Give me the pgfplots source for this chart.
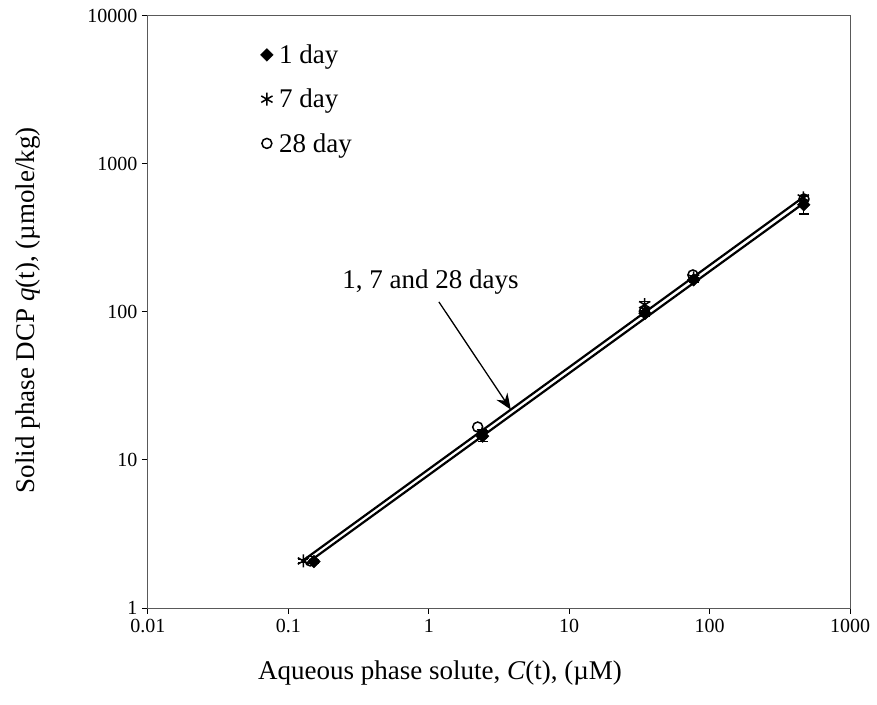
\documentclass[border=0pt]{standalone}
\usepackage{fontspec}
\setmainfont{Liberation Serif}
\usepackage{pgfplots}
\pgfplotsset{compat=1.18}
\usetikzlibrary{arrows.meta}
\begin{document}
\begin{tikzpicture}
\begin{axis}[
  name=ax,
  xmode=log, ymode=log,
  scale only axis,
  width=702pt, height=592pt,
  xmin=0.01, xmax=1000, ymin=1, ymax=10000,
  xtick={0.01,0.1,1,10,100,1000},
  xticklabels={0.01,0.1,1,10,100,1000},
  ytick={1,10,100,1000,10000},
  yticklabels={1,10,100,1000,10000},
  xminorticks=false, yminorticks=false,
  tick pos=left,
  tick align=outside,
  major tick length=6pt,
  tick style={black, line width=1pt},
  axis line style={black!65, line width=1pt},
  ticklabel style={font=\fontsize{20}{24}\selectfont},
  xticklabel style={yshift=-2pt},
  yticklabel style={xshift=-1pt},
  label style={font=\fontsize{27}{32}\selectfont},
  xlabel={Aqueous phase solute, \textit{C}(t), (µM)},
  ylabel={Solid phase DCP \textit{q}(t), (µmole/kg)},
  xlabel style={at={(axis description cs:0.416,-0.11)}, anchor=center},
  ylabel style={at={(axis description cs:-0.171,0.503)}, anchor=center},
  legend style={draw=none, fill=none, at={(0.16,0.955)}, anchor=north west,
    font=\fontsize{27}{32}\selectfont, row sep=20pt, inner sep=0pt,
    nodes={inner xsep=6pt}},
  legend cell align=left,
  clip=false,
]
% fitted lines
\addplot[black, line width=2.2pt, forget plot] coordinates {(0.125,2.07) (480,610)};
\addplot[black, line width=2.2pt, forget plot] coordinates {(0.14,2.05) (470,545)};
% 1 day
\addplot[only marks, mark=square*, mark options={rotate=45}, mark size=4.5pt, black,
  error bars/.cd, y dir=both, y explicit, error bar style={line width=1.2pt}, error mark options={rotate=90, mark size=5pt, line width=1.2pt}]
  coordinates {
  (0.152,2.06) +- (0,0.05)
  (2.42,14.5) +- (0,1.2)
  (34.7,98) +- (0,4)
  (77,165) +- (0,6)
  (468,530) +- (0,70)
};
\addlegendentry{1 day}
% 7 day
\addplot[only marks, mark=asterisk, mark size=6.5pt, black, line width=1.5pt,
  error bars/.cd, y dir=both, y explicit, error bar style={line width=1.2pt}, error mark options={rotate=90, mark size=5pt, line width=1.2pt}]
  coordinates {
  (0.128,2.08) +- (0,0.05)
  (2.40,15.0) +- (0,1.0)
  (34.5,112) +- (0,6)
  (77,170) +- (0,6)
  (465,590) +- (0,25)
};
\addlegendentry{7 day}
% 28 day
\addplot[only marks, mark=o, mark size=5pt, black, line width=1.5pt,
  mark options={fill=white}]
  coordinates {
  (0.143,2.08)
  (2.23,16.7)
  (34.3,101)
  (76,178)
  (470,580)
};
\addlegendentry{28 day}
% annotation
\node[font=\fontsize{27}{32}\selectfont] at (axis cs:1.03,160) {1, 7 and 28 days};
\draw[-{Stealth[length=16pt,width=13pt]}, line width=1.3pt, black] (axis cs:1.18,117) -- (axis cs:3.84,21.9);
\end{axis}
\pgfresetboundingbox
\path[use as bounding box] ([xshift=-148pt,yshift=-96pt]ax.south west) rectangle ([xshift=27pt,yshift=16pt]ax.north east);
\end{tikzpicture}
\end{document}
